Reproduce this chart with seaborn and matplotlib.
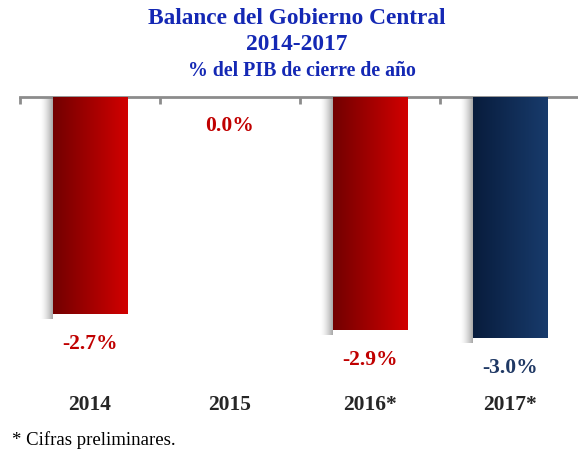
import numpy as np
import pandas as pd
import matplotlib
matplotlib.use("Agg")
import matplotlib.pyplot as plt
import seaborn as sns

# data
years = ["2014", "2015", "2016*", "2017*"]
balance = [-2.7, 0.0, -2.9, -3.0]
label_colors = ["#c00000", "#c00000", "#c00000", "#1f3864"]
grad_left = ["#720000", "#720000", "#720000", "#081c3c"]
grad_right = ["#d20000", "#d20000", "#d20000", "#183b6c"]

sns.set_style("white")
plt.rcParams["font.family"] = ["Liberation Serif", "DejaVu Serif"]

W, H = 578, 451
fig = plt.figure(figsize=(W / 100, H / 100), dpi=100)
# axes: zero line at y=97px, 80.5 px per unit
ax_left, ax_right = 20, 580
ax_top, ax_bot = 97, 380
ax = fig.add_axes([ax_left / W, 1 - ax_bot / H, (ax_right - ax_left) / W, (ax_bot - ax_top) / H])

df = pd.DataFrame({"year": years, "value": balance})
sns.barplot(data=df, x="year", y="value", ax=ax, width=0.535, color="#c00000",
            edgecolor="none", zorder=3)

# gradient fill + soft shadow on the left of each bar
grad = np.linspace(0, 1, 256).reshape(1, -1)
for i, p in enumerate(ax.patches):
    x0, w = p.get_x(), p.get_width()
    y0, h = p.get_y(), p.get_height()
    if h == 0:
        continue
    cmap = matplotlib.colors.LinearSegmentedColormap.from_list(
        "g%d" % i, [grad_left[i], grad_right[i]])
    im = ax.imshow(grad, extent=[x0, x0 + w, y0 + h, y0], aspect="auto",
                   cmap=cmap, zorder=4, interpolation="bicubic")
    im.set_clip_path(p)
    p.set_facecolor("none")
    sw = 0.09
    shade = np.zeros((1, 64, 4))
    shade[..., :3] = 0.45
    shade[..., 3] = np.linspace(0, 0.75, 64) ** 1.6
    ax.imshow(shade, extent=[x0 - sw, x0, y0 + h - 0.06, y0], aspect="auto",
              zorder=2, interpolation="bicubic")
ax.set_xlim(-0.5, len(years) - 0.5)
ax.set_ylim(-(ax_bot - ax_top) / 80.5, 0)

# value labels (~28 px below bar end)
for i, (v, c) in enumerate(zip(balance, label_colors)):
    ax.annotate(f"{v:.1f}%", (i, v), xytext=(0, -21), textcoords="offset points",
                ha="center", va="center", fontsize=15.5, fontweight="bold", color=c)

# axis styling
for s in ["left", "right", "bottom"]:
    ax.spines[s].set_visible(False)
ax.spines["top"].set_color("#8c8c8c")
ax.spines["top"].set_linewidth(2)
ax.set_yticks([])
ax.set_xticks(range(len(years)))
ax.set_xticklabels(years, fontsize=15.5, fontweight="bold")
ax.set_xticks(np.arange(-0.5, len(years)), minor=True)
ax.tick_params(axis="x", which="major", length=0, pad=11)
ax.tick_params(axis="x", which="minor", top=True, bottom=False, direction="in",
               length=5, width=2, color="#8c8c8c")
ax.set_xlabel("")
ax.set_ylabel("")

# titles
blue = "#1428b4"
fig.text(297 / W, 1 - 19 / H, "Balance del Gobierno Central", ha="center", va="center",
         fontsize=16.8, fontweight="bold", color=blue)
fig.text(297 / W, 1 - 45 / H, "2014-2017", ha="center", va="center",
         fontsize=16.8, fontweight="bold", color=blue)
fig.text(302 / W, 1 - 71 / H, "% del PIB de cierre de año", ha="center", va="center",
         fontsize=14.3, fontweight="bold", color=blue)
fig.text(12 / W, 1 - 440 / H, "* Cifras preliminares.", ha="left", va="center",
         fontsize=13.5, color="black")

fig.savefig("out.png", dpi=100)
